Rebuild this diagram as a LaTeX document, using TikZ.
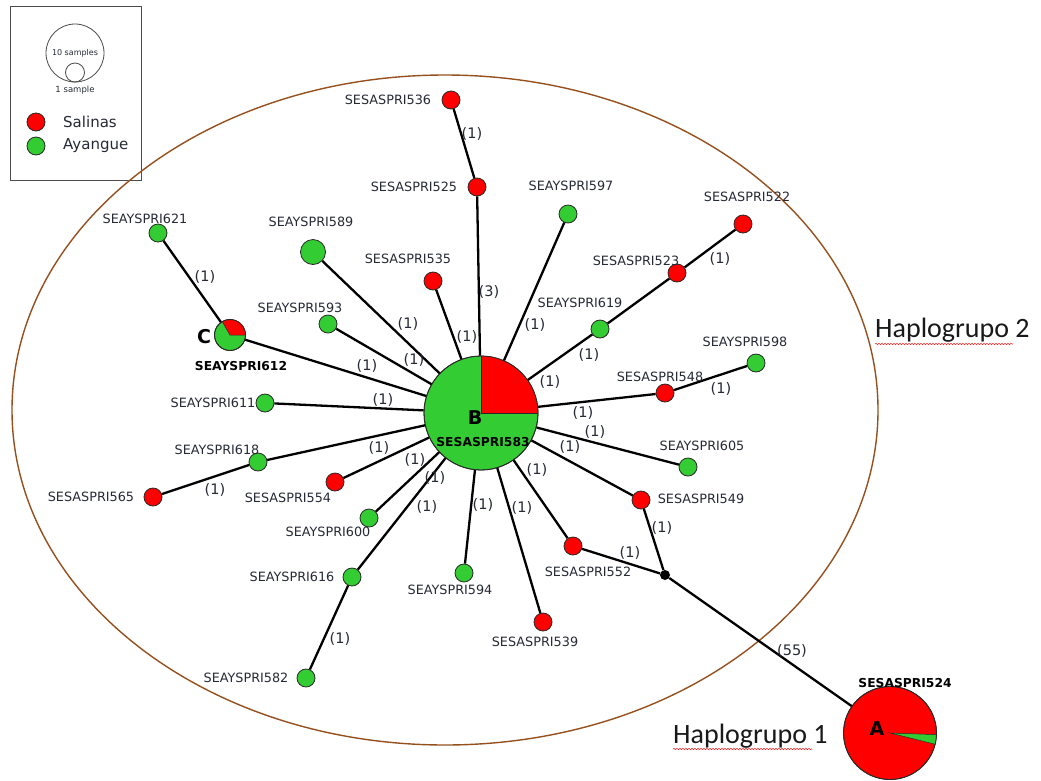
\documentclass[tikz,border=0pt]{standalone}
\usepackage{fontspec}
\setmainfont{DejaVu Sans}
\newfontfamily\calfont{Carlito}
\usetikzlibrary{decorations.pathmorphing}
\definecolor{salred}{RGB}{255,0,0}
\definecolor{ayagreen}{RGB}{51,204,51}
\definecolor{txt}{RGB}{38,42,54}
\definecolor{brownline}{RGB}{150,80,30}
\definecolor{outl}{RGB}{40,40,40}
\begin{document}
\begin{tikzpicture}[x=1pt,y=-1pt,
  hap/.style={circle, draw=outl, line width=0.8pt, inner sep=0pt, minimum size=18pt},
  sal/.style={hap, fill=salred},
  aya/.style={hap, fill=ayagreen},
  lbl/.style={font=\fontsize{12.8}{14}\selectfont, text=txt, inner sep=0pt},
  blbl/.style={font=\fontsize{12.3}{14}\selectfont\bfseries, text=black, inner sep=0pt},
  big/.style={font=\fontsize{19}{22}\selectfont\bfseries, text=black, inner sep=0pt},
  mut/.style={font=\fontsize{14.5}{16}\selectfont, text=txt, inner sep=0pt},
  link/.style={line width=2.3pt, black},
  hgrp/.style={font=\calfont\fontsize{28}{32}\selectfont, text=black!90, inner sep=0pt, anchor=base west},
  squig/.style={draw=red!85!white, line width=0.6pt, decorate, decoration={snake, amplitude=0.7pt, segment length=3pt}},
  legc/.style={circle, draw=gray!60!black, line width=0.8pt, inner sep=0pt}
]
\useasboundingbox (0,0) rectangle (1041,780);
\fill[white] (0,0) rectangle (1041,780);

% legend
\draw[gray!60!black, line width=0.8pt] (10,6) rectangle (141,180);
\node (lbig) [legc, minimum size=58pt] at (75,53) {};
\node (lsmall) [legc, minimum size=19pt] at (75,72.5) {};
\node (t10) [font=\fontsize{8}{9}\selectfont, text=txt, inner sep=0pt] at (75,53) {10 samples};
\node (t1) [font=\fontsize{8.5}{9}\selectfont, text=txt, inner sep=0pt] at (75,90) {1 sample};
\node (legR) [sal] at (36,122) {};
\node (legG) [aya] at (36,146) {};
\node (tS) [font=\fontsize{15}{17}\selectfont, text=txt, inner sep=0pt, anchor=west] at (63,122) {Salinas};
\node (tA) [font=\fontsize{15}{17}\selectfont, text=txt, inner sep=0pt, anchor=west] at (63,146) {Ayangue};

% haplogroup 2 ellipse
\draw[brownline, line width=1.4pt] (445,410) ellipse [x radius=433, y radius=335];

% haplotype nodes
\node (B) [aya, minimum size=114pt] at (481,413) {};
\node (A) [sal, minimum size=93pt] at (890,733) {};
\node (C) [aya, minimum size=31pt] at (230,335) {};
\node (n589) [aya, minimum size=25pt] at (313,252) {};
\node (j) [circle, fill=black, inner sep=0pt, minimum size=10pt] at (665,575) {};
\node (n536) [sal] at (451,100) {};
\node (n525) [sal] at (477,187) {};
\node (n597) [aya] at (568,214) {};
\node (n535) [sal] at (433,281) {};
\node (n593) [aya] at (328,324) {};
\node (n621) [aya] at (158,233) {};
\node (n611) [aya] at (265,403) {};
\node (n618) [aya] at (258,462) {};
\node (n565) [sal] at (153,497) {};
\node (n554) [sal] at (335,482) {};
\node (n600) [aya] at (369,518) {};
\node (n616) [aya] at (352,577) {};
\node (n582) [aya] at (306,678) {};
\node (n594) [aya] at (464,573) {};
\node (n539) [sal] at (543,622) {};
\node (n552) [sal] at (573,546) {};
\node (n549) [sal] at (641,500) {};
\node (n605) [aya] at (688,467) {};
\node (n548) [sal] at (665,393) {};
\node (n598) [aya] at (756,363) {};
\node (n619) [aya] at (600,329) {};
\node (n523) [sal] at (677,273) {};
\node (n522) [sal] at (743,224) {};

% pie sectors
\begin{scope}[shift={(B.center)}, x=1pt, y=1pt]
  \fill[salred] (0,0) -- (0:57) arc[start angle=0, end angle=90, radius=57] -- cycle;
  \draw[outl, line width=0.5pt] (0,57) -- (0,0) -- (57,0);
  \draw[outl, line width=0.8pt] (0,0) circle[radius=57];
\end{scope}
\begin{scope}[shift={(C.center)}, x=1pt, y=1pt]
  \fill[salred] (0,0) -- (0:15.5) arc[start angle=0, end angle=120, radius=15.5] -- cycle;
  \draw[outl, line width=0.5pt] (120:15.5) -- (0,0) -- (15.5,0);
  \draw[outl, line width=0.8pt] (0,0) circle[radius=15.5];
\end{scope}
\begin{scope}[shift={(A.center)}, x=1pt, y=1pt]
  \fill[ayagreen] (0,0) -- (-14:46.5) arc[start angle=-14, end angle=-2, radius=46.5] -- cycle;
  \draw[outl, line width=0.5pt] (-14:46.5) -- (0,0) -- (-2:46.5);
  \draw[outl, line width=0.8pt] (0,0) circle[radius=46.5];
\end{scope}

% connectors
\draw[link] (n536) -- (n525);
\draw[link] (n525) -- (B);
\draw[link] (n597) -- (B);
\draw[link] (n535) -- (B);
\draw[link] (n589) -- (B);
\draw[link] (n593) -- (B);
\draw[link] (C) -- (B);
\draw[link] (n621) -- (C);
\draw[link] (n611) -- (B);
\draw[link] (n618) -- (B);
\draw[link] (n565) -- (n618);
\draw[link] (n554) -- (B);
\draw[link] (n600) -- (B);
\draw[link] (n616) -- (B);
\draw[link] (n582) -- (n616);
\draw[link] (n594) -- (B);
\draw[link] (n539) -- (B);
\draw[link] (n552) -- (B);
\draw[link] (n552) -- (j);
\draw[link] (n549) -- (B);
\draw[link] (n549) -- (j);
\draw[link] (j) -- (A);
\draw[link] (n605) -- (B);
\draw[link] (n548) -- (B);
\draw[link] (n598) -- (n548);
\draw[link] (n619) -- (B);
\draw[link] (n523) -- (n619);
\draw[link] (n522) -- (n523);

% mutation counts
\node (m1) [mut] at (472,134) {(1)};
\node (m2) [mut] at (489,292) {(3)};
\node (m3) [mut] at (535,325) {(1)};
\node (m4) [mut] at (467,337) {(1)};
\node (m5) [mut] at (408,324) {(1)};
\node (m6) [mut] at (414,360) {(1)};
\node (m7) [mut] at (367,366) {(1)};
\node (m8) [mut] at (205,277) {(1)};
\node (m9) [mut] at (383,400) {(1)};
\node (m10) [mut] at (379,448) {(1)};
\node (m11) [mut] at (215,490) {(1)};
\node (m12) [mut] at (415,460) {(1)};
\node (m13) [mut] at (435,478) {(1)};
\node (m14) [mut] at (427,507) {(1)};
\node (m15) [mut] at (340,639) {(1)};
\node (m16) [mut] at (483,505) {(1)};
\node (m17) [mut] at (522,508) {(1)};
\node (m18) [mut] at (537,470) {(1)};
\node (m19) [mut] at (630,553) {(1)};
\node (m20) [mut] at (570,447) {(1)};
\node (m21) [mut] at (662,528) {(1)};
\node (m22) [mut] at (595,432) {(1)};
\node (m23) [mut] at (583,413) {(1)};
\node (m24) [mut] at (721,389) {(1)};
\node (m25) [mut] at (550,382) {(1)};
\node (m26) [mut] at (589,355) {(1)};
\node (m27) [mut] at (720,259) {(1)};
\node (m28) [mut] at (792,651) {(55)};

% haplotype names
\node (l536) [lbl] at (388,100) {SESASPRI536};
\node (l525) [lbl] at (414,187) {SESASPRI525};
\node (l597) [lbl] at (571,186) {SEAYSPRI597};
\node (l535) [lbl] at (408,259) {SESASPRI535};
\node (l589) [lbl] at (311,222) {SEAYSPRI589};
\node (l593) [lbl] at (300,308) {SEAYSPRI593};
\node (lC) [big] at (204,337) {C};
\node (l612) [blbl] at (241,366) {SEAYSPRI612};
\node (l621) [lbl] at (145,219) {SEAYSPRI621};
\node (l611) [lbl] at (213,403) {SEAYSPRI611};
\node (l618) [lbl] at (217,450) {SEAYSPRI618};
\node (l565) [lbl] at (91,497) {SESASPRI565};
\node (l554) [lbl] at (288,498) {SESASPRI554};
\node (l600) [lbl] at (328,532) {SEAYSPRI600};
\node (l616) [lbl] at (292,577) {SEAYSPRI616};
\node (l582) [lbl] at (246,678) {SEAYSPRI582};
\node (l594) [lbl] at (450,590) {SEAYSPRI594};
\node (l539) [lbl] at (535,642) {SESASPRI539};
\node (l552) [lbl] at (588,572) {SESASPRI552};
\node (l549) [lbl] at (701,499) {SESASPRI549};
\node (l605) [lbl] at (702,446) {SEAYSPRI605};
\node (l548) [lbl] at (660,377) {SESASPRI548};
\node (l598) [lbl] at (745,342) {SEAYSPRI598};
\node (l619) [lbl] at (580,303) {SEAYSPRI619};
\node (l523) [lbl] at (636,261) {SESASPRI523};
\node (l522) [lbl] at (747,197) {SESASPRI522};
\node (lB) [big] at (475,418) {B};
\node (l583) [blbl] at (483,442) {SESASPRI583};
\node (lA) [big] at (877,729) {A};
\node (l524) [blbl] at (905,683) {SESASPRI524};

% haplogroup captions
\node (h2) [hgrp] at (875,337) {Haplogrupo 2};
\node (h1) [hgrp] at (673,743) {Haplogrupo 1};
\draw[squig] (875,344) -- (1013,344);
\draw[squig] (673,749) -- (812,749);
\end{tikzpicture}
\end{document}
